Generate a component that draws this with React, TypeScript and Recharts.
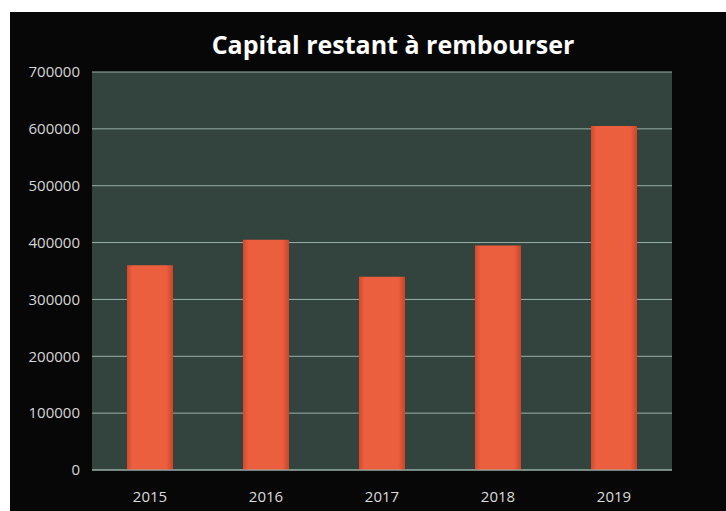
import React from "react";
import { BarChart, Bar, XAxis, YAxis, CartesianGrid } from "recharts";

const years = ["2015", "2016", "2017", "2018", "2019"];
const capital = [360000, 405000, 340000, 395000, 605000];
const yTicks = [0, 100000, 200000, 300000, 400000, 500000, 600000, 700000];
const title = "Capital restant à rembourser";

const data = years.map((y, i) => ({ year: y, value: capital[i] }));

const font = "'Open Sans', 'DejaVu Sans', sans-serif";

export default function App() {
  return (
    <div style={{ position: "absolute", left: 0, top: 0, width: 726, height: 511, background: "#ffffff", overflow: "hidden" }}>
      <div style={{ position: "absolute", left: 10, top: 12, width: 716, height: 499, background: "#070707" }}>
        <div
          style={{
            position: "absolute",
            left: 0,
            top: 17,
            width: 766,
            textAlign: "center",
            color: "#ffffff",
            fontFamily: font,
            fontWeight: 700,
            fontSize: 25,
            lineHeight: "30px",
          }}
        >
          {title}
        </div>
        <BarChart
          width={716}
          height={499}
          data={data}
          margin={{ top: 60, right: 54, bottom: 1, left: 0 }}
          barSize={46}
        >
          <defs>
            <linearGradient id="barGrad" x1="0" y1="0" x2="1" y2="0">
              <stop offset="0%" stopColor="#d24a2e" />
              <stop offset="12%" stopColor="#ec5f3e" />
              <stop offset="85%" stopColor="#ec5f3e" />
              <stop offset="100%" stopColor="#c9452a" />
            </linearGradient>
          </defs>
          <CartesianGrid vertical={false} fill="#33433d" stroke="#97b0a9" strokeWidth={1} />
          <XAxis
            dataKey="year"
            axisLine={{ stroke: "#97b0a9" }}
            tickLine={false}
            tickMargin={15}
            height={40}
            tick={{ fill: "#dcdcdc", fontSize: 15, fontFamily: font }}
          />
          <YAxis
            width={82}
            domain={[0, 700000]}
            ticks={yTicks}
            axisLine={false}
            tickLine={false}
            tickMargin={6}
            tick={{ fill: "#d6d6d6", fontSize: 15, fontFamily: font }}
          />
          <Bar dataKey="value" fill="url(#barGrad)" isAnimationActive={false} />
        </BarChart>
      </div>
    </div>
  );
}
